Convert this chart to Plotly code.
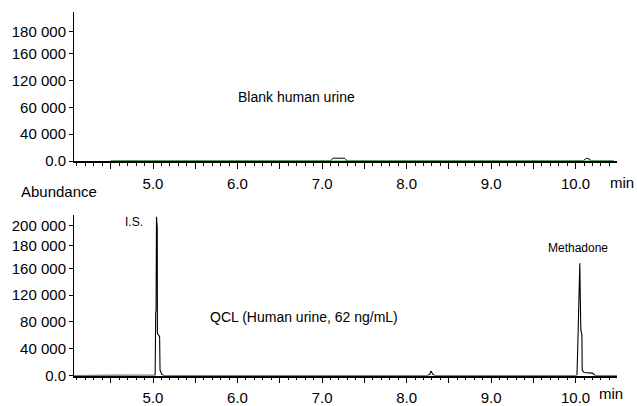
import plotly.graph_objects as go

# Blank human urine chromatogram (time in min, abundance)
blank_t = [4.50, 7.10, 7.127, 7.135, 7.26, 7.27, 7.30, 10.09, 10.11, 10.13, 10.16, 10.19, 10.45]
blank_y = [0, 0, 4000, 4200, 4200, 3800, 0, 0, 2500, 4000, 3000, 0, 0]

# QCL sample (human urine, 62 ng/mL)
qcl_t = [4.065, 5.000, 5.025, 5.032, 5.036, 5.041, 5.046, 5.050, 5.052,
         5.078, 5.083, 5.105, 5.130, 8.250, 8.275, 8.290, 8.310, 8.335,
         10.000, 10.016, 10.024, 10.040, 10.050, 10.056, 10.062, 10.075,
         10.078, 10.100, 10.200, 10.230, 10.490]
qcl_y = [0, 0, 500, 95000, 96000, 237000, 220000, 220000, 63000,
         58000, 8000, 1500, 0, 0, 2000, 6700, 2000, 0,
         0, 500, 33600, 115200, 167500, 115000, 68000, 60000,
         8000, 4500, 3500, 0, 0]

green_t = [4.50, 10.45]
green_y = [0, 0]

x_range = [4.065, 10.49]
major_ticks = [4.5, 5.0, 5.5, 6.0, 6.5, 7.0, 7.5, 8.0, 8.5, 9.0, 9.5, 10.0, 10.5]
major_text = ["", "5.0", "", "6.0", "", "7.0", "", "8.0", "", "9.0", "", "10.0", ""]

top_yvals = [0, 40000, 80000, 120000, 160000, 193000]
top_ytext = ["0.0", "40 000", "60 000", "120 000", "160 000", "180 000"]
bot_yvals = [0, 40000, 80000, 120000, 160000, 193600, 223400]
bot_ytext = ["0.0", "40 000", "80 000", "120 000", "160 000", "180 000", "200 000"]

FONT = "Liberation Sans, Arial, sans-serif"
W, H = 637.0, 406.0
ML, MR = 74, 20
PW = W - ML - MR


def px_x(px):
    # horizontal pixel -> paper fraction of the plotting area
    return (px - ML) / PW


def px_y(px):
    return (H - px) / H


fig = go.Figure()
fig.add_trace(go.Scatter(x=blank_t, y=blank_y, mode="lines",
                         line=dict(color="black", width=1),
                         xaxis="x", yaxis="y", cliponaxis=False, showlegend=False))
fig.add_trace(go.Scatter(x=green_t, y=green_y, mode="lines",
                         line=dict(color="#3cb43c", width=1.2),
                         xaxis="x", yaxis="y", cliponaxis=False, showlegend=False))
fig.add_trace(go.Scatter(x=qcl_t, y=qcl_y, mode="lines",
                         line=dict(color="black", width=1.1),
                         xaxis="x2", yaxis="y2", cliponaxis=False, showlegend=False))


def xaxis_style(anchor, layer):
    return dict(
        anchor=anchor, range=x_range, domain=[0, 1], automargin=False,
        showline=True, linecolor="black", linewidth=1.5, layer=layer,
        showgrid=False, zeroline=False,
        tickmode="array", tickvals=major_ticks, ticktext=major_text,
        ticks="outside", ticklen=6, tickwidth=1, tickcolor="black",
        ticklabelstandoff=2,
        minor=dict(tickmode="linear", tick0=4.0, dtick=0.1, ticks="outside",
                   ticklen=3, tickwidth=1, tickcolor="black", showgrid=False),
        tickfont=dict(family=FONT, size=15, color="black"),
    )


def yaxis_style(anchor, dom, rng, vals, text):
    return dict(
        anchor=anchor, domain=dom, range=rng, automargin=False,
        showline=True, linecolor="black", linewidth=1,
        showgrid=False, zeroline=False,
        tickmode="array", tickvals=vals, ticktext=text,
        ticks="outside", ticklen=4, tickwidth=1, tickcolor="black",
        tickfont=dict(family=FONT, size=15, color="black"),
    )


def label(text, x, y, xref, yref, size):
    return dict(text=text, x=x, y=y, xref=xref, yref=yref, showarrow=False,
                xanchor="center", yanchor="middle", font=dict(size=size))


fig.update_layout(
    width=637, height=406,
    margin=dict(l=ML, r=MR, t=0, b=0),
    paper_bgcolor="white", plot_bgcolor="white",
    font=dict(family=FONT, color="black"),
    xaxis=xaxis_style("y", "below traces"),
    xaxis2=xaxis_style("y2", "above traces"),
    yaxis=yaxis_style("x", [px_y(161), px_y(12)], [0, 222400], top_yvals, top_ytext),
    yaxis2=yaxis_style("x2", [px_y(375.5), px_y(215)], [0, 239500], bot_yvals, bot_ytext),
    annotations=[
        label("Blank human urine", 6.70, 95500, "x", "y", 14),
        label("QCL (Human urine, 62 ng/mL)", 6.787, 87300, "x2", "y2", 14),
        label("I.S.", 4.775, 229100, "x2", "y2", 12),
        label("Methadone", 10.03, 190300, "x2", "y2", 12),
        label("Abundance", px_x(59), px_y(191), "paper", "paper", 15),
        label("min", px_x(622), px_y(183), "paper", "paper", 15),
        label("min", px_x(611), px_y(393), "paper", "paper", 15),
    ],
)

fig.write_html("out.html")
